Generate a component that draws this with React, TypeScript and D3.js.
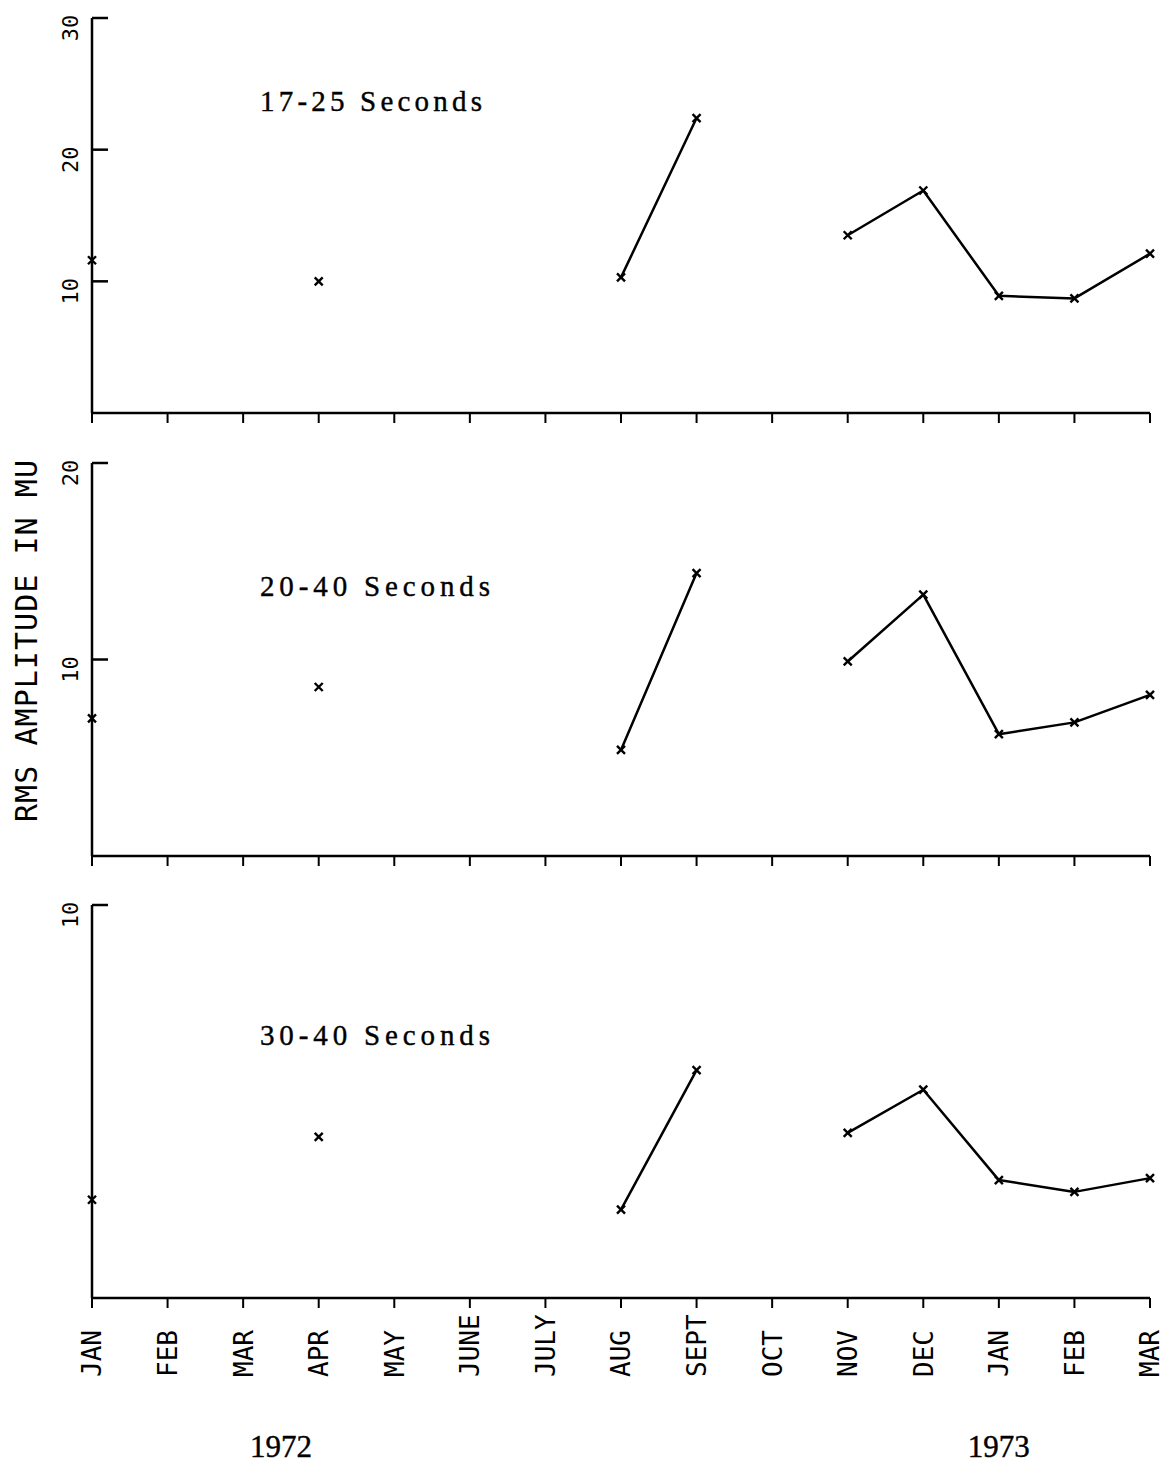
import React from "react";
import * as d3 from "d3";

const months = ["JAN", "FEB", "MAR", "APR", "MAY", "JUNE", "JULY", "AUG", "SEPT", "OCT", "NOV", "DEC", "JAN", "FEB", "MAR"];
const years = [
  { label: "1972", at: 2.5 },
  { label: "1973", at: 12.0 },
];

const titles = ["17-25 Seconds", "20-40 Seconds", "30-40 Seconds"];

const series1: (number | null)[] = [11.6, null, null, 10.0, null, null, null, 10.3, 22.4, null, 13.5, 16.9, 8.9, 8.7, 12.1];
const series2: (number | null)[] = [7.0, null, null, 8.6, null, null, null, 5.4, 14.4, null, 9.9, 13.3, 6.2, 6.8, 8.2];
const series3: (number | null)[] = [2.5, null, null, 4.1, null, null, null, 2.25, 5.8, null, 4.2, 5.3, 3.0, 2.7, 3.05];

const ticks1 = [10, 20, 30];
const ticks2 = [10, 20];
const ticks3 = [10];

const yLabel = "RMS AMPLITUDE IN MU";

const W = 1167;
const H = 1473;
const X0 = 92;
const X1 = 1150;

const panels = [
  { top: 18, bottom: 413, max: 30, ticks: ticks1, data: series1, title: titles[0], titleY: 111, titleLen: 222 },
  { top: 463, bottom: 856, max: 20, ticks: ticks2, data: series2, title: titles[1], titleY: 596, titleLen: 230 },
  { top: 905, bottom: 1298, max: 10, ticks: ticks3, data: series3, title: titles[2], titleY: 1045, titleLen: 230 },
];

const plotFont = "'DejaVu Sans Mono', 'Liberation Mono', monospace";
const serifFont = "'Liberation Serif', 'DejaVu Serif', serif";

export default function App() {
  const x = d3.scaleLinear().domain([0, months.length - 1]).range([X0, X1]);

  return (
    <div style={{ position: "absolute", left: 0, top: 0 }}>
      <svg width={W} height={H} style={{ display: "block", background: "#fff" }}>
        {panels.map((p, pi) => {
          const y = d3.scaleLinear().domain([0, p.max]).range([p.bottom, p.top]);
          const line = d3
            .line<number | null>()
            .defined((d) => d !== null)
            .x((_, i) => x(i))
            .y((d) => y(d as number));
          return (
            <g key={pi}>
              {/* y axis */}
              <line x1={X0} x2={X0} y1={y(p.max)} y2={p.bottom} stroke="#000" strokeWidth={2.5} />
              {p.ticks.map((t) => (
                <g key={t}>
                  <line x1={X0} x2={X0 + 16} y1={y(t)} y2={y(t)} stroke="#000" strokeWidth={2.5} />
                  <text
                    transform={`translate(70,${y(t) + 10}) rotate(-90)`}
                    textAnchor="middle"
                    dy="0.36em"
                    fontFamily={plotFont}
                    fontSize={22}
                    fill="#000"
                  >
                    {t}
                  </text>
                </g>
              ))}
              {/* x axis */}
              <line x1={X0} x2={X1} y1={p.bottom} y2={p.bottom} stroke="#000" strokeWidth={2.5} />
              {months.map((m, i) => (
                <line key={i} x1={x(i)} x2={x(i)} y1={p.bottom} y2={p.bottom + 10} stroke="#000" strokeWidth={2} />
              ))}
              {/* title */}
              <text
                x={260}
                y={p.titleY}
                fontFamily={serifFont}
                fontSize={29}
                textLength={p.titleLen}
                lengthAdjust="spacing"
                fill="#000"
                stroke="#000"
                strokeWidth={0.4}
              >
                {p.title}
              </text>
              {/* line */}
              <path d={line(p.data) || ""} fill="none" stroke="#000" strokeWidth={2.5} strokeLinejoin="round" />
              {/* markers */}
              {p.data.map((d, i) =>
                d === null ? null : (
                  <path
                    key={i}
                    transform={`translate(${x(i)},${y(d)})`}
                    d="M-4,-4L4,4M-4,4L4,-4"
                    stroke="#000"
                    strokeWidth={2.4}
                  />
                )
              )}
            </g>
          );
        })}
        {/* month labels */}
        {months.map((m, i) => (
          <text
            key={i}
            transform={`translate(${x(i)},1377) rotate(-90)`}
            textAnchor="start"
            dy="0.36em"
            fontFamily={plotFont}
            fontSize={26}
            fill="#000"
          >
            {m}
          </text>
        ))}
        {/* years */}
        {years.map((yr) => (
          <text
            key={yr.label}
            x={x(yr.at)}
            y={1457}
            textAnchor="middle"
            fontFamily={serifFont}
            fontSize={31}
            fill="#000"
            stroke="#000"
            strokeWidth={0.4}
          >
            {yr.label}
          </text>
        ))}
        {/* y axis label */}
        <text
          transform={`translate(26,${(460 + 822) / 2}) rotate(-90)`}
          textAnchor="middle"
          dy="0.36em"
          fontFamily={plotFont}
          fontSize={30}
          textLength={362}
          lengthAdjust="spacing"
          fill="#000"
        >
          {yLabel}
        </text>
      </svg>
    </div>
  );
}
